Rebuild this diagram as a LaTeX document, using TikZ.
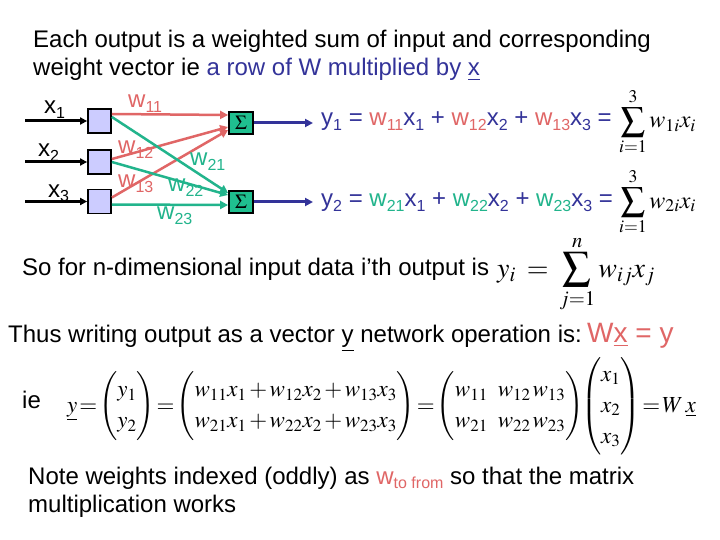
\documentclass[tikz,border=0pt]{standalone}
\usepackage{amsmath}
\usepackage{mathptmx}
\usepackage{fontspec}
\setmainfont{Liberation Sans}
\newfontfamily\sigmafont{Liberation Serif}
\usetikzlibrary{arrows.meta}
\definecolor{wred}{HTML}{E06666}
\definecolor{wgreen}{HTML}{22B48C}
\definecolor{navy}{HTML}{333399}
\definecolor{lilac}{HTML}{CCCCFF}
\definecolor{sumfill}{HTML}{1FBF8F}
\newcommand\lo[1]{\raisebox{-0.2em}{\fontsize{16}{16}\selectfont #1}}
\tikzset{
  txt/.style={inner sep=0pt,anchor=base west,font=\fontsize{24}{28}\selectfont},
  mathtxt/.style={inner sep=0pt,anchor=base west,font=\fontsize{24}{30}\selectfont},
  inbox/.style={rectangle,draw=black,fill=lilac,line width=1.8pt,
    minimum width=23pt,minimum height=24pt,inner sep=0pt},
  sumbox/.style={rectangle,draw=black,fill=sumfill,line width=1.8pt,
    minimum width=24pt,minimum height=22pt,inner sep=0pt,
    font=\sigmafont\bfseries\fontsize{20}{20}\selectfont},
  inarrow/.style={-{Triangle[length=7pt,width=7pt]},line width=3pt},
  redline/.style={-{Triangle[length=8pt,width=8pt]},line width=2.5pt,color=wred},
  grnline/.style={-{Triangle[length=8pt,width=8pt]},line width=2.5pt,color=wgreen},
  outarrow/.style={-{Triangle[length=8pt,width=8pt]},line width=3pt,color=navy},
}
\begin{document}
\begin{tikzpicture}[x=1pt,y=-1pt]
  \fill[white] (0,0) rectangle (720,540);
  \useasboundingbox (0,0) rectangle (720,540);
  % heading
  \node[txt] (head1) at (33,48) {Each output is a weighted sum of input and corresponding};
  \node[txt] (head2) at (33,76) {weight vector ie \textcolor{navy}{a row of W multiplied by \underline{x}}};
  % network
  \node[inbox] (b1) at (99.5,121) {};
  \node[inbox] (b2) at (99.5,162) {};
  \node[inbox] (b3) at (99.5,201.5) {};
  \node[sumbox] (s1) at (241,123) {$\Sigma$};
  \node[sumbox] (s2) at (241,202) {$\Sigma$};
  \coordinate (i1) at (25,121);
  \coordinate (i2) at (25,162);
  \coordinate (i3) at (25,201.5);
  \coordinate (o1) at (313,123);
  \coordinate (o2) at (313,202);
  \node[txt] (x1) at (44,114) {x\lo{1}};
  \node[txt] (x2) at (38,157) {x\lo{2}};
  \node[txt] (x3) at (48,197) {x\lo{3}};
  \draw[inarrow] (i1) -- (b1);
  \draw[inarrow] (i2) -- (b2);
  \draw[inarrow] (i3) -- (b3);
  \draw[redline] ([yshift=7pt]b1.east) -- ([yshift=8pt]s1.west);
  \draw[redline] ([yshift=3pt]b2.east) -- ([yshift=-4pt]s1.west);
  \draw[redline] ([yshift=4pt]b3.east) -- ([yshift=-7pt]s1.west);
  \draw[grnline] ([yshift=4pt]b1.east) -- ([yshift=9pt]s2.west);
  \draw[grnline] (b2.east) -- ([yshift=7pt]s2.west);
  \draw[grnline] ([yshift=-3pt]b3.east) -- ([yshift=-3pt]s2.west);
  \draw[outarrow] (s1) -- (o1);
  \draw[outarrow] (s2) -- (o2);
  \node[txt,text=wred] (w11) at (128,108) {w\lo{11}};
  \node[txt,text=wred] (w12) at (118,154) {w\lo{12}};
  \node[txt,text=wred] (w13) at (118,188) {w\lo{13}};
  \node[txt,text=wgreen] (w21) at (190,166) {w\lo{21}};
  \node[txt,text=wgreen] (w22) at (168,192) {w\lo{22}};
  \node[txt,text=wgreen] (w23) at (157,220) {w\lo{23}};
  % outputs
  \node[txt,text=navy] (eq1) at (321,126) {y\lo{1} = \textcolor{wred}{w\lo{11}}x\lo{1} + \textcolor{wred}{w\lo{12}}x\lo{2} + \textcolor{wred}{w\lo{13}}x\lo{3} =};
  \node[txt,text=navy] (eq2) at (321,207) {y\lo{2} = \textcolor{wgreen}{w\lo{21}}x\lo{1} + \textcolor{wgreen}{w\lo{22}}x\lo{2} + \textcolor{wgreen}{w\lo{23}}x\lo{3} =};
  \node[mathtxt] (sum1) at (619,128) {$\displaystyle\sum_{i=1}^{3} w_{1i}x_i$};
  \node[mathtxt] (sum2) at (619,208) {$\displaystyle\sum_{i=1}^{3} w_{2i}x_i$};
  % general case
  \node[txt] (gen) at (22,275) {So for n-dimensional input data i’th output is};
  \node[mathtxt,font=\fontsize{28}{34}\selectfont] (sumj) at (497,277) {$\thickmuskip=7mu\displaystyle y_i = \sum_{j=1}^{n} w_{ij}x_j$};
  \node[txt] (thus) at (8,342) {Thus writing output as a vector \underline{y} network operation is:};
  \node[txt,font=\fontsize{28}{32}\selectfont,text=wred] (wxy) at (587,342) {W\underline{x} = y};
  % matrix form
  \node[txt] (ie) at (22,408) {ie};
  \node[mathtxt,font=\fontsize{23}{31}\selectfont] (mat) at (67,412) {$\thickmuskip=1.5mu\medmuskip=2mu
    \underline{y}=\begin{pmatrix} y_1\\ y_2\end{pmatrix}=\begin{pmatrix} w_{11}x_1+w_{12}x_2+w_{13}x_3\\ w_{21}x_1+w_{22}x_2+w_{23}x_3\end{pmatrix}=\begin{pmatrix} w_{11} & w_{12}\;w_{13}\\ w_{21} & w_{22}\;w_{23}\end{pmatrix}\mkern-4mu\begin{pmatrix} x_1\\ x_2\\ x_3\end{pmatrix}=W\,\underline{x}$};
  % note
  \node[txt] (note1) at (28,484) {Note weights indexed (oddly) as \textcolor{wred}{w\lo{to from}} so that the matrix};
  \node[txt] (note2) at (28,512) {multiplication works};
\end{tikzpicture}
\end{document}
